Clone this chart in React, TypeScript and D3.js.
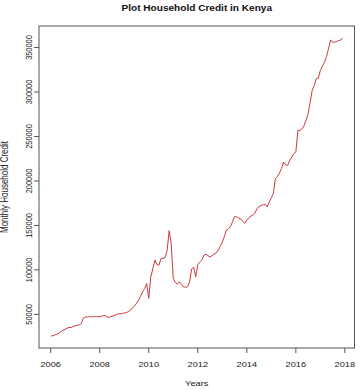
import React from "react";
import * as d3 from "d3";

const startYear = 2006;
const householdCredit: number[] = [
  // 2006
  25600, 26000, 26800, 27800, 28700, 30500, 32200, 33000, 34500, 35400, 35200, 36600,
  // 2007
  37200, 37800, 38000, 39900, 45800, 47000, 47200, 47500, 47100, 47400, 47600, 47300,
  // 2008
  47300, 48000, 48900, 48200, 46600, 47000, 48100, 48600, 49500, 50700, 50500, 51000,
  // 2009
  51400, 52000, 53000, 54500, 57000, 59300, 62500, 66000, 70000, 75400, 79000, 84800,
  // 2010
  68000, 92200, 101000, 111000, 106000, 105300, 112800, 113000, 113900, 122000, 144000, 129700,
  // 2011
  90400, 86000, 84000, 86600, 84000, 81000, 80500, 81000, 86600, 101000, 103000, 92200,
  // 2012
  106000, 109000, 111000, 116600, 117700, 116000, 114600, 116000, 118000, 119000, 122000, 126200,
  // 2013
  131000, 137400, 144900, 146000, 148600, 154000, 159800, 159800, 158000, 157300, 154500, 152400,
  // 2014
  156000, 158000, 160600, 161700, 164000, 169000, 171000, 172600, 173000, 173800, 170700, 176400,
  // 2015
  181000, 186100, 202600, 205000, 209000, 214000, 221300, 218000, 217600, 223100, 227000, 230700,
  // 2016
  232400, 256800, 256800, 258700, 262000, 268100, 275600, 288600, 301700, 307300, 314900, 315500,
  // 2017
  324200, 329000, 333500, 339800, 348500, 358600, 355900, 356000, 356700, 357800, 358500, 360800,
];
const xTicks = [2006, 2008, 2010, 2012, 2014, 2016, 2018];
const yTicks = [50000, 100000, 150000, 200000, 250000, 300000, 350000];
const title = "Plot Household Credit in Kenya";
const xLabel = "Years";
const yLabel = "Monthly Household Credit";

const W = 360;
const H = 390;
const box = { left: 39, right: 354.5, top: 26, bottom: 348 };
const SX = 1.25;
const font = "'Liberation Sans', Arial, sans-serif";

export default function App() {
  const points = householdCredit.map((v, i) => ({ t: startYear + i / 12, v }));
  const [tMin, tMax] = d3.extent(points, (d) => d.t) as [number, number];
  const [vMin, vMax] = d3.extent(points, (d) => d.v) as [number, number];
  const tPad = (tMax - tMin) * 0.04;
  const vPad = (vMax - vMin) * 0.04;
  const x = d3.scaleLinear().domain([tMin - tPad, tMax + tPad]).range([box.left, box.right]);
  const y = d3.scaleLinear().domain([vMin - vPad, vMax + vPad]).range([box.bottom, box.top]);
  const line = d3
    .line<{ t: number; v: number }>()
    .x((d) => x(d.t))
    .y((d) => y(d.v));

  return (
    <svg
      width={W}
      height={H}
      style={{ position: "absolute", left: 0, top: 0, background: "#fff" }}
      fontFamily={font}
    >
      <rect x={0} y={0} width={W} height={H} fill="#fff" />
      <text
        transform={`translate(${(box.left + box.right) / 2},11) scale(1.2,1)`}
        textAnchor="middle"
        fontSize={8.4}
        fontWeight="bold"
        fill="#111"
      >
        {title}
      </text>
      <path d={line(points) ?? ""} fill="none" stroke="#cc3b3b" strokeWidth={1} />
      <rect
        x={box.left}
        y={box.top}
        width={box.right - box.left}
        height={box.bottom - box.top}
        fill="none"
        stroke="#555"
        strokeWidth={1}
      />
      {xTicks.map((t) => (
        <g key={t}>
          <line x1={x(t)} x2={x(t)} y1={box.bottom} y2={box.bottom + 5} stroke="#555" />
          <text
            transform={`translate(${x(t)},367) scale(${SX},1)`}
            textAnchor="middle"
            fontSize={7.4}
            fill="#222"
          >
            {t}
          </text>
        </g>
      ))}
      {yTicks.map((v) => (
        <g key={v}>
          <line x1={box.left - 5} x2={box.left} y1={y(v)} y2={y(v)} stroke="#555" />
          <text
            transform={`translate(31.5,${y(v)}) scale(${SX},1) rotate(-90)`}
            textAnchor="middle"
            fontSize={7.4}
            fill="#222"
          >
            {v}
          </text>
        </g>
      ))}
      <text
        transform={`translate(${(box.left + box.right) / 2},386) scale(${SX},1)`}
        textAnchor="middle"
        fontSize={7.4}
        fill="#222"
      >
        {xLabel}
      </text>
      <text
        transform={`translate(7.5,${(box.top + box.bottom) / 2}) scale(${SX},1) rotate(-90)`}
        textAnchor="middle"
        fontSize={8}
        fill="#222"
      >
        {yLabel}
      </text>
    </svg>
  );
}
